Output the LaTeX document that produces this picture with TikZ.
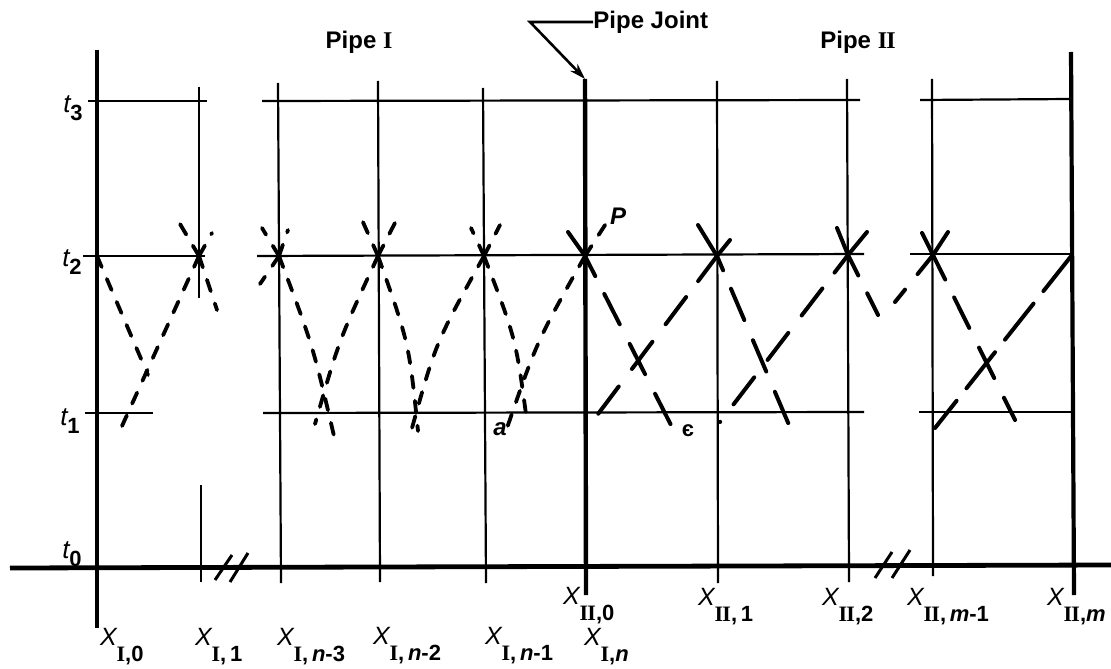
\documentclass[tikz,border=0pt]{standalone}
\usepackage{fontspec}
\setmainfont{Liberation Sans}
\newfontfamily\romf{Liberation Serif}
\usetikzlibrary{arrows.meta}
\newcommand{\romI}{{\romf\bfseries I}}
\newcommand{\romII}{{\romf\bfseries I\kern-0.4pt I}}
\newcommand{\XLab}[1]{{\fontsize{12.5}{14}\selectfont\itshape X}\raisebox{-8pt}{\fontsize{11}{12}\selectfont\bfseries #1}}
\newcommand{\tLab}[1]{{\fontsize{13}{14}\selectfont\itshape t}\raisebox{-4pt}{\fontsize{11}{12}\selectfont\bfseries #1}}
\begin{document}
\begin{tikzpicture}[x=0.5pt,y=-0.5pt,
  heavy/.style={line width=2.4pt},
  gridl/.style={line width=1.1pt},
  sdash/.style={line width=1.9pt, line cap=round, dash pattern=on 6pt off 6.5pt},
  ldashA/.style={line width=2pt, line cap=round, dash pattern=on 26pt off 10pt on 17pt off 11pt on 17pt off 11pt on 17pt off 11pt on 17pt off 11pt},
  ldashB/.style={line width=2pt, line cap=round, dash pattern=on 23pt off 8pt},
  lbl/.style={inner sep=0pt, outer sep=0pt},
  ttl/.style={inner sep=0pt, font=\fontsize{12}{14}\selectfont\bfseries}]
\useasboundingbox (0,0) rectangle (1111,668);

% grid nodes at t2
\coordinate (A0) at (97,256);
\coordinate (A1) at (199,256);
\coordinate (N3) at (279,256);
\coordinate (N2) at (378,256);
\coordinate (N1) at (484,256);
\coordinate (J)  at (585,256);
\coordinate (B1) at (717,256);
\coordinate (B2) at (848,255);
\coordinate (Bm1) at (933,255);
\coordinate (Bm) at (1072,255);

% vertical lines
\draw[heavy] (97,50) -- (97,628);
\draw[gridl] (199,87) -- (199,298);
\draw[gridl] (201,485) -- (201,582);
\draw[gridl] (278,83) -- (281,583);
\draw[gridl] (378,81) -- (380,582);
\draw[gridl] (483,88) -- (486,583);
\draw[line width=2.2pt] (585,79) -- (586,595);
\draw[gridl] (717,81) -- (718,583);
\draw[gridl] (847,79) -- (849,582);
\draw[gridl] (932,79) -- (933,576);
\draw[line width=2.1pt] (1071,52) -- (1074,595);

% horizontal lines
\draw[gridl] (88,101) -- (207,101);
\draw[gridl] (262,101) -- (860,100);
\draw[gridl] (920,100) -- (1071,99);
\draw[gridl] (83,256) -- (205,256);
\draw[gridl] (257,256) -- (864,254);
\draw[gridl] (910,254) -- (1072,254);
\draw[gridl] (85,413) -- (153,413);
\draw[gridl] (263,413) -- (864,412);
\draw[gridl] (919,412) -- (1072,412);
\draw[heavy] (10,568) -- (1111,565);

% break marks
\draw[line width=1.5pt] (215,580) -- (232,555) (230,582) -- (248,553);
\draw[line width=1.5pt] (875,578) -- (892,552) (892,578) -- (910,550);

% Pipe I, first interval
\draw[sdash] (A0) -- (148,375);
\draw[sdash] (A1) -- (122,426);
\draw[sdash] (A1) -- (180,224);
\draw[sdash] (A1) -- (212,233);
\draw[sdash] (A1) -- (217,310);

% Pipe I, last intervals
\draw[sdash] (N3) -- (262,228);
\draw[sdash] (N3) -- (288,230);
\draw[sdash] (N3) -- (260,284);
\draw[sdash] (N3) .. controls (313,346) .. (334,436);
\draw[sdash] (N2) -- (362,220);
\draw[sdash] (N2) -- (398,217);
\draw[sdash] (N2) .. controls (339,340) .. (315,424);
\draw[sdash] (N2) .. controls (409,343) .. (418,431);
\draw[sdash] (N1) -- (471,228);
\draw[sdash] (N1) -- (500,225);
\draw[sdash] (N1) .. controls (436,342) .. (412,428);
\draw[sdash] (N1) .. controls (516,339) .. (527,422);
\draw[sdash] (J) .. controls (537,341) .. (507,428);
\draw[sdash] (J) -- (607,222);

% Pipe II
\draw[ldashA] (568,232) -- (J) -- (675,433);
\draw[ldashA] (730,240) -- (B1) -- (592,422);
\draw[ldashA] (698,225) -- (B1) -- (792,432);
\draw[ldashA] (867,232) -- (B2) -- (720,422);
\draw[ldashA] (837,228) -- (B2) -- (878,315);
\draw[ldashA] (922,233) -- (Bm1) -- (1015,420);
\draw[ldashA] (948,232) -- (Bm1) -- (895,302);
\draw[ldashB] (Bm) -- (935,428);

% titles
\node[ttl] (p1) at (359,42) {Pipe \romI};
\node[ttl] (p2) at (858,42) {Pipe \romII};
\node[ttl, anchor=west] (pj) at (593,22) {Pipe Joint};
\coordinate (pjtip) at (585,79);
\draw[line width=1.3pt, -{Stealth[length=8pt,width=5pt]}] (pj.west) -- (530,22) -- (pjtip);

% time labels
\node[lbl] (t3) at (73,108) {\tLab{3}};
\node[lbl] (t2) at (72,262) {\tLab{2}};
\node[lbl] (t1) at (70,421) {\tLab{1}};
\node[lbl] (t0) at (72,554) {\tLab{0}};

% point labels
\node[lbl, font=\fontsize{12}{14}\selectfont\bfseries\itshape] (P) at (618,216) {P};
\node[lbl, font=\fontsize{12}{14}\selectfont\bfseries\itshape] (a) at (500,429) {a};
\node[lbl, font=\fontsize{11}{13}\selectfont\bfseries] (eps) at (688,431) {є};

% x labels
\node[lbl, anchor=base west] (x10) at (100,645) {\XLab{\romI,0}};
\node[lbl, anchor=base west] (x11) at (195,645) {\XLab{\romI,\,1}};
\node[lbl, anchor=base west] (x1n3) at (277,645) {\XLab{\romI,\,{\itshape n}-3}};
\node[lbl, anchor=base west] (x1n2) at (373,644) {\XLab{\romI,\,{\itshape n}-2}};
\node[lbl, anchor=base west] (x1n1) at (485,644) {\XLab{\romI,\,{\itshape n}-1}};
\node[lbl, anchor=base west] (x1n) at (584,645) {\XLab{\romI,{\itshape n}}};
\node[lbl, anchor=base west] (x20) at (563,604) {\XLab{\romII,0}};
\node[lbl, anchor=base west] (x21) at (698,605) {\XLab{\romII,\,1}};
\node[lbl, anchor=base west] (x22) at (822,605) {\XLab{\romII,2}};
\node[lbl, anchor=base west] (x2m1) at (907,605) {\XLab{\romII,\,{\itshape m}-1}};
\node[lbl, anchor=base west] (x2m) at (1047,605) {\XLab{\romII,{\itshape m}}};
\end{tikzpicture}
\end{document}
